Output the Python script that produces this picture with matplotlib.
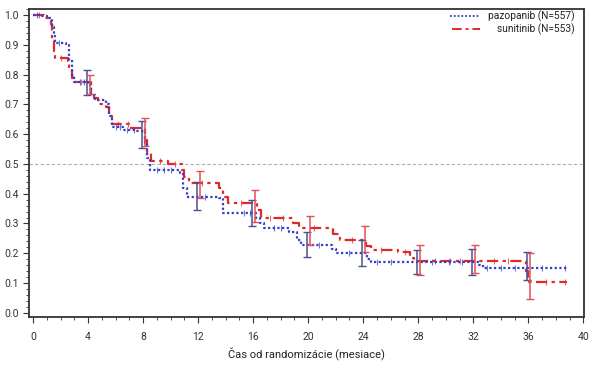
import numpy as np
import matplotlib
matplotlib.use("Agg")
import matplotlib.pyplot as plt
from matplotlib.ticker import MultipleLocator

plt.rcParams['font.family'] = ['Roboto', 'DejaVu Sans']

# ---------------------------
# Kaplan-Meier data
# ---------------------------
pazo_t = [0, 0.5, 1.0, 1.4, 1.5, 1.6, 2.4, 2.6, 2.8, 3.0, 4.0, 4.2, 4.5, 5.3, 5.5, 5.7,
          6.5, 7.5, 8.1, 8.3, 8.5, 10.7, 10.9, 11.2, 13.5, 13.8, 16.2, 16.5, 16.8,
          18.6, 19.2, 19.5, 21.7, 22.0, 24.3, 24.6, 32.4, 32.7, 38.8]
pazo_s = [1.0, 0.995, 0.99, 0.96, 0.93, 0.905, 0.90, 0.85, 0.80, 0.775, 0.765, 0.73,
          0.715, 0.70, 0.66, 0.625, 0.615, 0.61, 0.57, 0.52, 0.48, 0.47, 0.42, 0.39,
          0.385, 0.335, 0.32, 0.30, 0.285, 0.27, 0.245, 0.228, 0.215, 0.20, 0.18, 0.17,
          0.16, 0.152, 0.152]

suni_t = [0, 0.8, 1.3, 1.4, 1.5, 1.6, 2.5, 2.6, 2.8, 3.0, 4.2, 4.4, 4.7, 5.3, 5.5, 5.7,
          7.0, 8.1, 8.3, 8.6, 9.8, 10.8, 11.0, 11.3, 13.5, 13.8, 14.2, 16.3, 16.6,
          18.9, 19.3, 21.8, 22.3, 24.2, 24.6, 26.5, 27.4, 27.7, 35.8, 36.0, 38.8]
suni_s = [1.0, 0.99, 0.97, 0.92, 0.88, 0.855, 0.845, 0.82, 0.79, 0.775, 0.74, 0.72,
          0.70, 0.69, 0.66, 0.635, 0.62, 0.58, 0.54, 0.51, 0.50, 0.48, 0.455, 0.435,
          0.42, 0.39, 0.37, 0.345, 0.318, 0.30, 0.285, 0.265, 0.245, 0.225, 0.21,
          0.205, 0.185, 0.175, 0.14, 0.105, 0.105]

# censored observations (months)
pazo_cens = [0.3, 1.9, 3.4, 3.7, 6.0, 6.3, 6.8, 7.3, 9.0, 9.5, 10.0, 12.5, 15.3, 15.8,
             17.5, 18.0, 20.8, 23.0, 25.0, 26.0, 29.0, 30.2, 31.2, 33.0, 34.0, 35.0,
             37.0, 38.7]
suni_cens = [0.4, 2.0, 3.5, 6.2, 6.9, 9.2, 10.3, 12.3, 15.1, 17.2, 18.2, 20.4, 23.2,
             25.3, 27.0, 29.2, 30.3, 31.0, 33.5, 34.5, 37.3, 38.7]

# 95% CI at selected months
ci_months = [4, 8, 12, 16, 20, 24, 28, 32, 36]
pazo_lo = [0.73, 0.555, 0.345, 0.29, 0.187, 0.157, 0.13, 0.128, 0.11]
pazo_hi = [0.815, 0.645, 0.44, 0.38, 0.27, 0.244, 0.21, 0.213, 0.203]
suni_lo = [0.735, 0.56, 0.385, 0.305, 0.227, 0.203, 0.126, 0.133, 0.045]
suni_hi = [0.80, 0.655, 0.475, 0.413, 0.325, 0.29, 0.227, 0.227, 0.20]


def km_at(times, surv, t):
    idx = np.searchsorted(times, t, side='right') - 1
    return np.asarray(surv)[idx]


blue = '#2f3fc8'
red = '#e02a2a'
blue_bar = '#4b4f8f'
red_bar = '#e0505a'
pazo_ls = (0, (1, 1.1))
suni_ls = (0, (5, 2, 1.5, 2))

fig = plt.figure(figsize=(6.07, 3.72), dpi=100)
ax = fig.add_axes([29 / 607, 1 - 317 / 372, 555 / 607, 308 / 372])

ax.axhline(0.5, color='#b0b0b0', lw=0.8, ls=(0, (3, 2)), zorder=1)

ax.step(pazo_t, pazo_s, where='post', color=blue, lw=1.6, ls=pazo_ls, zorder=3)
ax.step(suni_t, suni_s, where='post', color=red, lw=1.6, ls=suni_ls, zorder=2)

ax.plot(pazo_cens, km_at(pazo_t, pazo_s, pazo_cens), ls='none', marker='|',
        ms=5, mew=0.8, color=blue, alpha=0.7, zorder=3)
ax.plot(suni_cens, km_at(suni_t, suni_s, suni_cens), ls='none', marker='|',
        ms=5, mew=0.8, color=red, alpha=0.7, zorder=2)

ci = np.array(ci_months, dtype=float)
plo, phi = np.array(pazo_lo), np.array(pazo_hi)
slo, shi = np.array(suni_lo), np.array(suni_hi)
ax.errorbar(ci - 0.1, (plo + phi) / 2, yerr=(phi - plo) / 2, fmt='none',
            ecolor=blue_bar, elinewidth=1.1, capsize=3, capthick=1.0, zorder=4)
ax.errorbar(ci + 0.15, (slo + shi) / 2, yerr=(shi - slo) / 2, fmt='none',
            ecolor=red_bar, elinewidth=1.1, capsize=3, capthick=1.0, zorder=4)

ax.set_xlim(-0.3, 40.05)
ax.set_ylim(-0.014, 1.02)
ax.xaxis.set_major_locator(MultipleLocator(4))
ax.xaxis.set_minor_locator(MultipleLocator(1))
ax.yaxis.set_major_locator(MultipleLocator(0.1))
ax.yaxis.set_minor_locator(MultipleLocator(0.02))
ax.set_yticklabels([f"{v:.1f}" for v in ax.get_yticks()])
ax.tick_params(which='major', length=4, width=0.8, labelsize=7.5, colors='#333333',
               direction='out')
ax.tick_params(which='minor', length=2, width=0.6, color='#333333', direction='out')
ax.tick_params(axis='x', pad=7)
for s in ax.spines.values():
    s.set_color('#333333')
    s.set_linewidth(1.3)

ax.set_xlabel("Čas od randomizácie (mesiace)", fontsize=8, color='#222222', labelpad=4)

# legend drawn in axes coordinates
ax.plot([0.759, 0.812], [0.977, 0.977], transform=ax.transAxes, color=blue, lw=1.3,
        ls=pazo_ls)
ax.plot([0.762, 0.812], [0.935, 0.935], transform=ax.transAxes, color=red, lw=1.4,
        ls=suni_ls)
ax.text(0.984, 0.977, "pazopanib (N=557)", transform=ax.transAxes, ha='right',
        va='center', fontsize=7.3, color='#222222')
ax.text(0.984, 0.935, "sunitinib (N=553)", transform=ax.transAxes, ha='right',
        va='center', fontsize=7.3, color='#222222')

fig.savefig("out.png", dpi=100)
